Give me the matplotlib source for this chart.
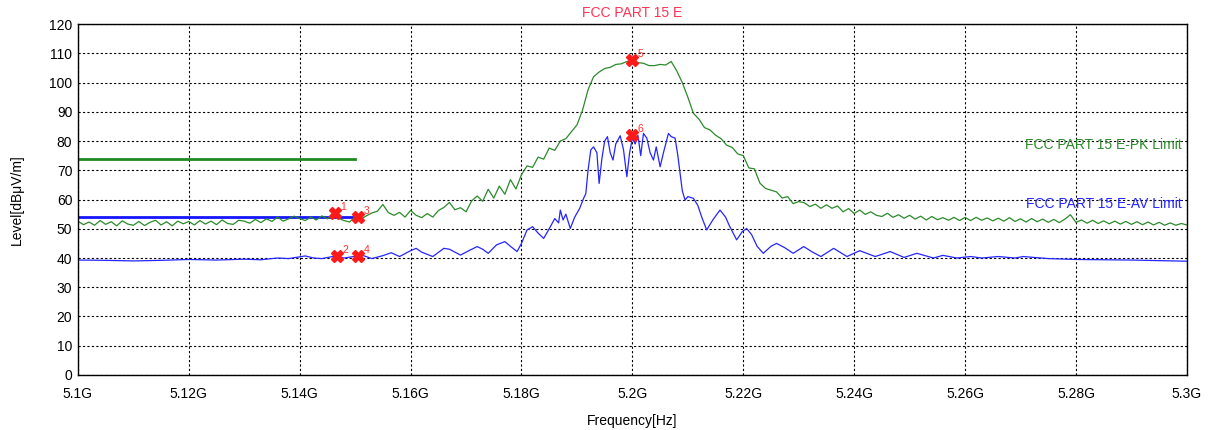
import matplotlib.pyplot as plt
import numpy as np

plt.rcParams["font.family"] = ["Liberation Sans", "DejaVu Sans"]

# peak trace, 1 MHz steps from 5100 to 5300 MHz
pk_start, pk_step = 5100, 1
pk_level = [
    52.6, 51.4, 52.3, 51.2, 52.8, 51.5, 52.4, 51.0, 52.7, 51.6,
    51.2, 52.5, 51.1, 52.2, 52.9, 51.3, 52.4, 51.0, 52.6, 51.7,
    52.5, 51.3, 52.8, 51.6, 52.6, 51.4, 53.0, 51.8, 51.5, 52.9,
    52.6, 51.9, 53.2, 52.1, 53.4, 52.5, 54.0, 52.6, 53.4, 54.3,
    53.5, 52.8, 54.0, 53.0, 54.4, 53.4, 55.3, 53.6, 52.8, 52.3,
    54.1, 53.2, 54.4, 55.4, 56.0, 58.3, 55.5, 54.6, 55.6, 54.0,
    56.3, 54.6, 53.8, 55.2, 54.0, 56.2, 57.3, 59.0, 56.5, 57.2,
    55.8, 59.5, 61.2, 59.4, 63.5, 60.5, 64.6, 61.8, 66.8, 63.6,
    68.5, 71.5, 71.0, 74.5, 73.8, 77.6, 76.8, 80.0, 80.8, 83.2,
    85.5, 90.5, 97.5, 102.0, 103.6, 104.8, 105.2, 106.2, 106.4, 107.2,
    107.7, 106.8, 106.6, 105.8, 105.8, 106.2, 106.0, 107.2, 104.0, 100.0,
    95.0, 89.5, 87.5, 84.6, 83.8, 82.0, 80.8, 78.6, 77.8, 75.6,
    75.0, 70.8, 70.5, 65.6, 63.8, 63.2, 62.6, 60.5, 61.0, 58.6,
    59.3, 58.9, 57.6, 58.4, 57.0, 58.2, 57.0, 57.8, 55.8, 56.9,
    55.2, 56.4, 54.9, 55.8, 54.6, 54.2, 55.3, 53.9, 54.8, 53.6,
    54.6, 53.3, 54.3, 53.0, 54.2, 53.1, 53.8, 52.9, 53.9, 52.8,
    53.9, 52.8, 53.9, 52.9, 53.7, 52.7, 53.6, 52.6, 53.8, 52.5,
    53.4, 52.3, 53.5, 52.4, 53.3, 52.2, 53.2, 52.1, 53.3, 54.8,
    52.2, 53.0, 51.9, 52.9, 51.8, 52.7, 51.7, 52.6, 51.6, 52.5,
    51.5, 52.4, 51.4, 52.3, 51.3, 52.2, 51.2, 52.0, 51.2, 51.8,
    51.3,
]

# average trace
av_freq = [
    5100, 5105, 5110, 5115, 5120, 5125, 5130, 5133, 5136, 5138,
    5140, 5141, 5142.5, 5144, 5146.5, 5148, 5149.5, 5150.5, 5151.5, 5153,
    5155, 5156.5, 5158, 5160, 5161, 5162, 5164, 5166, 5167, 5169,
    5170.5, 5172, 5173, 5174, 5175.5, 5177, 5178, 5179.2, 5180, 5181,
    5182, 5183, 5184, 5185, 5186, 5186.7, 5187, 5187.5, 5188, 5188.8,
    5189.6, 5190.5, 5191.2, 5191.6, 5192, 5192.5, 5193, 5193.6, 5194, 5194.5,
    5195, 5195.5, 5196, 5196.5, 5197, 5197.8, 5198.4, 5199, 5199.5, 5200,
    5200.5, 5201, 5201.5, 5202, 5202.6, 5203.2, 5203.8, 5204.3, 5205, 5205.6,
    5206.5, 5207, 5207.7, 5208.2, 5208.6, 5209, 5209.5, 5210, 5211, 5211.8,
    5212.5, 5213.4, 5214.5, 5215.8, 5216.8, 5217.5, 5218.8, 5219.8, 5220.6, 5221.5,
    5222.5, 5223.6, 5225, 5226, 5227.5, 5229, 5230.9, 5232.5, 5234, 5236.3,
    5238.7, 5241, 5243.8, 5246.5, 5249, 5251.3, 5254.3, 5256, 5258.5, 5261,
    5263, 5266, 5269, 5270.5, 5275, 5280, 5290, 5300,
]
av_level = [
    39.3, 39.2, 39.0, 39.2, 39.5, 39.3, 39.6, 39.4, 40.0, 39.8,
    40.4, 40.7, 40.0, 39.8, 40.7, 40.0, 40.4, 40.7, 40.8, 39.8,
    40.8, 41.8, 40.5, 42.5, 43.3, 42.0, 40.5, 43.3, 43.0, 41.0,
    42.5, 43.9, 43.0, 41.6, 44.5, 45.6, 44.0, 42.2, 45.0, 49.6,
    50.7, 48.5, 46.7, 50.0, 53.5, 52.0, 56.4, 53.0, 55.0, 50.1,
    54.0, 57.0, 60.4, 62.0, 70.0, 77.0, 78.0, 76.0, 65.5, 74.0,
    80.0, 81.5, 76.0, 73.5, 79.0, 81.8, 77.0, 67.8, 76.0, 81.0,
    79.0, 82.0, 75.0, 82.6, 81.0, 76.0, 73.5, 78.0, 71.2, 76.0,
    82.6, 81.5, 81.0, 75.0, 69.0, 63.0, 59.8, 61.0, 60.4, 58.0,
    54.0, 49.6, 53.0, 56.4, 54.0, 51.0, 46.2, 49.0, 50.1, 48.0,
    44.0, 41.6, 44.0, 45.0, 43.5, 41.6, 43.9, 42.0, 40.5, 43.3,
    40.5, 42.5, 40.5, 42.2, 40.2, 41.6, 40.0, 40.9, 40.0, 40.5,
    40.0, 40.5, 40.0, 40.5, 39.8, 39.5, 39.3, 38.9,
]

# limit lines (restricted band edge)
limit_freq = [5100, 5150]
pk_limit = [74, 74]
av_limit = [54, 54]

# markers
mk_label = ["1", "2", "3", "4", "5", "6"]
mk_freq = [5146.3, 5146.7, 5150.6, 5150.6, 5200.0, 5200.0]
mk_level = [55.3, 40.7, 54.1, 40.7, 107.7, 82.0]

xticks = [5100, 5120, 5140, 5160, 5180, 5200, 5220, 5240, 5260, 5280, 5300]
xtick_labels = ["5.1G", "5.12G", "5.14G", "5.16G", "5.18G", "5.2G",
                "5.22G", "5.24G", "5.26G", "5.28G", "5.3G"]
yticks = list(range(0, 121, 10))

pk_freq = pk_start + pk_step * np.arange(len(pk_level))

fig = plt.figure(figsize=(12.08, 4.30), dpi=100)
ax = fig.add_axes([0.0645, 0.128, 0.918, 0.816])

ax.plot(limit_freq, pk_limit, color="#1f8a1f", lw=2)
ax.plot(limit_freq, av_limit, color="#1515ff", lw=2)
ax.plot(pk_freq, pk_level, color="#2b8a2b", lw=0.9)
ax.plot(av_freq, av_level, color="#2525ff", lw=0.9)

ax.plot(mk_freq, mk_level, "X", color="#ff1a1a", ms=8, mec="#ff1a1a", ls="none")
for lab, f, v in zip(mk_label, mk_freq, mk_level):
    ax.annotate(lab, (f, v), xytext=(4, 2), textcoords="offset points",
                color="#ff3030", fontsize=7.5)

ax.text(5299, 78.6, "FCC PART 15 E-PK Limit", color="#2b8a2b",
        ha="right", va="center", fontsize=10)
ax.text(5299, 58.6, "FCC PART 15 E-AV Limit", color="#2525ff",
        ha="right", va="center", fontsize=10)

ax.set_xlim(5100, 5300)
ax.set_ylim(0, 120)
ax.set_xticks(xticks)
ax.set_xticklabels(xtick_labels)
ax.set_yticks(yticks)
ax.tick_params(length=0, labelsize=10)
ax.tick_params(axis="x", pad=9)
ax.tick_params(axis="y", pad=4)
ax.grid(color="black", linestyle=(0, (2, 2)), lw=0.8)
for s in ax.spines.values():
    s.set_linewidth(1)

ax.set_title("FCC PART 15 E", color="#ff3355", fontsize=10, pad=5)
ax.set_xlabel("Frequency[Hz]", fontsize=10, labelpad=9)
ax.set_ylabel("Level[dB\u03bcV/m]", fontsize=10, labelpad=18)

fig.savefig("out.png", dpi=100)
